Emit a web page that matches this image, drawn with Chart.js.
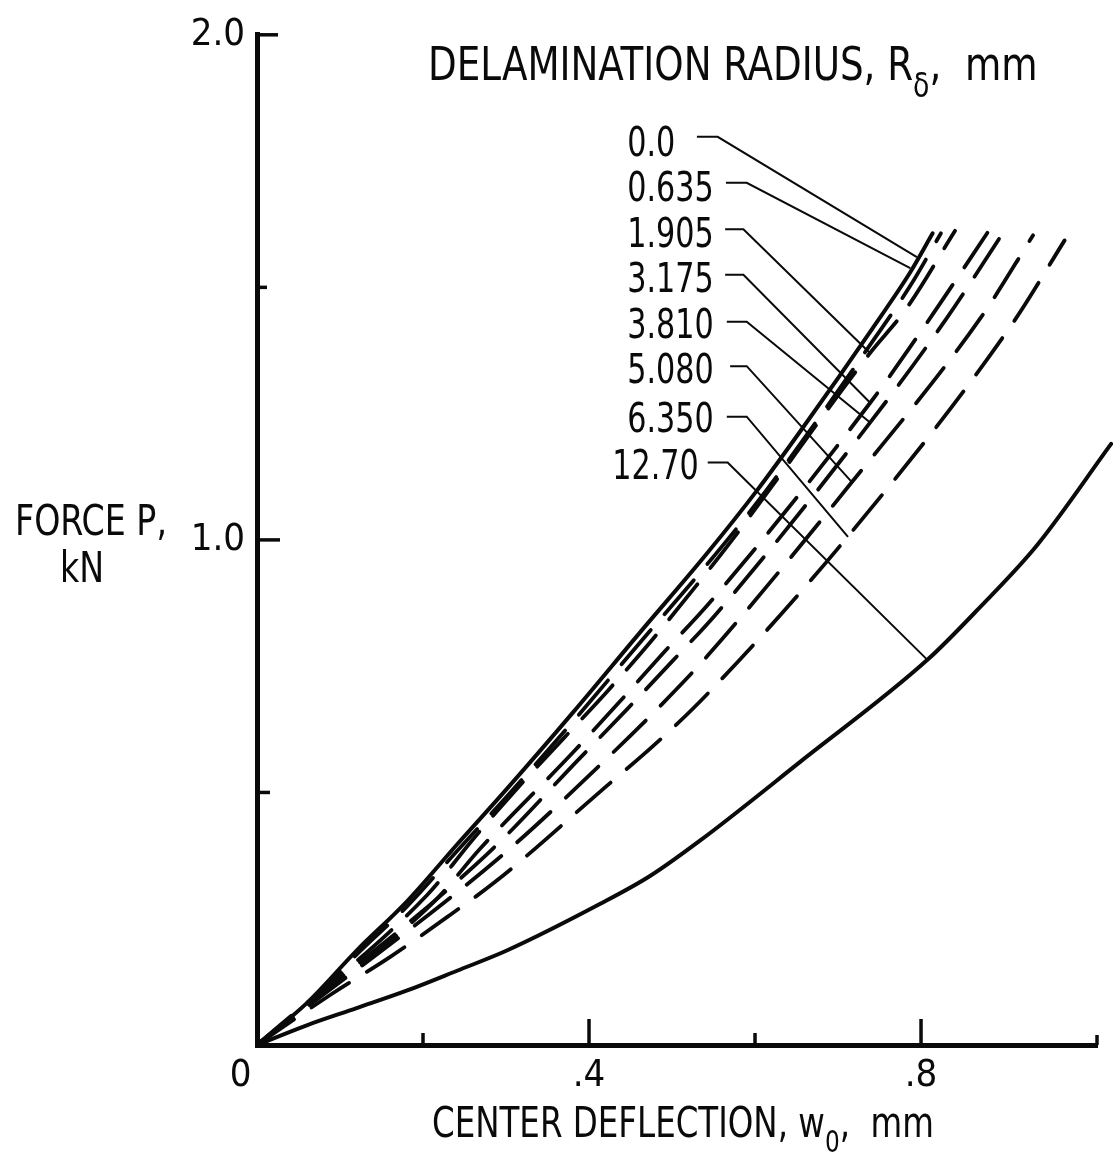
<!DOCTYPE html>
<html>
<head>
<meta charset="utf-8">
<script src="https://cdn.jsdelivr.net/npm/chart.js@4.4.1/dist/chart.umd.min.js"></script>
<style>
  html, body { margin: 0; padding: 0; background: #fff; }
  #wrap { width: 1113px; height: 1163px; position: relative; }
</style>
</head>
<body>
<div id="wrap"><canvas id="chart"></canvas></div>
<script>
/* ---------- DATA ---------- */
// center deflection w0 (mm) / force P (kN) for each delamination radius
const radiusLabels = ['0.0', '0.635', '1.905', '3.175', '3.810', '5.080', '6.350', '12.70'];

const defl_r0000 = [0, 0.060, 0.120, 0.181, 0.241, 0.301, 0.381, 0.461, 0.542, 0.602, 0.658, 0.742, 0.787, 0.814];
const force_r0000 = [0, 0.083, 0.187, 0.285, 0.397, 0.507, 0.659, 0.816, 0.973, 1.097, 1.223, 1.420, 1.530, 1.607];

const defl_r0635 = [0, 0.060, 0.120, 0.181, 0.241, 0.301, 0.381, 0.461, 0.542, 0.602, 0.658, 0.742, 0.787, 0.824];
const force_r0635 = [0, 0.079, 0.179, 0.275, 0.384, 0.492, 0.641, 0.796, 0.951, 1.073, 1.198, 1.394, 1.503, 1.607];

const defl_r1905 = [0, 0.205, 0.261, 0.314, 0.371, 0.423, 0.476, 0.529, 0.572, 0.739, 0.781, 0.841];
const force_r1905 = [0, 0.297, 0.409, 0.509, 0.610, 0.702, 0.802, 0.909, 0.999, 1.371, 1.455, 1.612];

const defl_r3175 = [0, 0.214, 0.269, 0.380, 0.436, 0.490, 0.546, 0.739, 0.808, 0.880];
const force_r3175 = [0, 0.285, 0.389, 0.578, 0.678, 0.777, 0.877, 1.272, 1.432, 1.608];

const defl_r3810 = [0, 0.276, 0.389, 0.446, 0.501, 0.554, 0.739, 0.831, 0.898];
const force_r3810 = [0, 0.376, 0.568, 0.665, 0.761, 0.855, 1.233, 1.439, 1.606];

const defl_r5080 = [0, 0.297, 0.427, 0.488, 0.543, 0.717, 0.872, 0.935];
const force_r5080 = [0, 0.378, 0.576, 0.675, 0.771, 1.115, 1.440, 1.603];

const defl_r6350 = [0, 0.089, 0.161, 0.233, 0.287, 0.420, 0.480, 0.542, 0.712, 0.910, 0.973];
const force_r6350 = [0, 0.100, 0.175, 0.258, 0.323, 0.511, 0.596, 0.694, 1.007, 1.428, 1.593];

const defl_r1270 = [0, 0.060, 0.120, 0.181, 0.241, 0.301, 0.413, 0.473, 0.534, 0.654, 0.808, 0.870, 0.940, 1.029];
const force_r1270 = [0, 0.039, 0.073, 0.108, 0.147, 0.187, 0.279, 0.334, 0.405, 0.560, 0.763, 0.865, 0.990, 1.190];

const seriesDefl = [defl_r0000, defl_r0635, defl_r1905, defl_r3175, defl_r3810, defl_r5080, defl_r6350, defl_r1270];
const seriesForce = [force_r0000, force_r0635, force_r1905, force_r3175, force_r3810, force_r5080, force_r6350, force_r1270];

// axis ticks
const xTickValues = [0, 0.2, 0.4, 0.6, 0.8, 1.0];
const xTickLabels = ['0', '', '.4', '', '.8', ''];
const yTickValues = [0, 0.5, 1.0, 1.5, 2.0];
const yTickLabels = ['', '', '1.0', '', '2.0'];

/* ---------- STYLE / LAYOUT ---------- */
const FONT = "'DejaVu Sans Condensed', 'DejaVu Sans', sans-serif";
const INK = '#0a0a0a';
const dashed = [false, true, true, true, true, true, true, false];

// label + leader placement, in data units (w0, P)
const labelPos = [
  [0.446, 1.788], [0.446, 1.699], [0.446, 1.607], [0.446, 1.519],
  [0.446, 1.428], [0.446, 1.338], [0.446, 1.242], [0.428, 1.149]
];
const leaderPath = [
  [0.530, 0.555, 1.798, 0.795, 1.560],
  [0.565, 0.590, 1.707, 0.787, 1.538],
  [0.564, 0.586, 1.615, 0.739, 1.369],
  [0.564, 0.586, 1.525, 0.739, 1.271],
  [0.566, 0.590, 1.432, 0.739, 1.232],
  [0.570, 0.590, 1.344, 0.717, 1.114],
  [0.566, 0.590, 1.244, 0.712, 1.006],
  [0.543, 0.567, 1.153, 0.808, 0.762]
];

/* ---------- PLUGINS ---------- */
const tickMarks = {
  id: 'tickMarks',
  afterDraw(chart) {
    const { ctx, scales: { x, y }, chartArea: a } = chart;
    ctx.save();
    ctx.strokeStyle = INK;
    ctx.lineWidth = 3.5;
    const xLen = [0, 12, 26, 12, 26, 10];
    xTickValues.forEach((v, i) => {
      if (!xLen[i]) return;
      const px = i === xTickValues.length - 1 ? a.right : x.getPixelForValue(v);
      ctx.beginPath();
      ctx.moveTo(px, a.bottom);
      ctx.lineTo(px, a.bottom - xLen[i]);
      ctx.stroke();
    });
    const yLen = [0, 13, 23, 10, 21];
    yTickValues.forEach((v, i) => {
      if (!yLen[i]) return;
      const py = y.getPixelForValue(v);
      ctx.beginPath();
      ctx.moveTo(a.left, py);
      ctx.lineTo(a.left + yLen[i], py);
      ctx.stroke();
    });
    ctx.restore();
  }
};

// narrow lettering: squeeze text horizontally, optional subscript parts
function drawText(ctx, parts, x, baseline, size, squeeze) {
  ctx.save();
  ctx.translate(x, baseline);
  ctx.scale(squeeze, 1);
  let cx = 0;
  parts.forEach(([txt, sub]) => {
    ctx.font = `${sub ? Math.round(size * 0.72) : size}px ${FONT}`;
    ctx.fillText(txt, cx, sub ? size * 0.36 : 0);
    cx += ctx.measureText(txt).width;
  });
  ctx.restore();
}

const annotations = {
  id: 'annotations',
  afterDraw(chart) {
    const { ctx, scales: { x, y } } = chart;
    ctx.save();
    ctx.fillStyle = INK;
    ctx.strokeStyle = INK;
    ctx.textBaseline = 'alphabetic';
    ctx.textAlign = 'left';

    // curve labels
    radiusLabels.forEach((lab, i) => {
      const [lx, ly] = labelPos[i];
      drawText(ctx, [[lab, false]], x.getPixelForValue(lx), y.getPixelForValue(ly) + 14, 40, 0.84);
    });

    // leaders
    ctx.lineWidth = 2;
    leaderPath.forEach(([x0, x1, yl, xe, ye]) => {
      ctx.beginPath();
      ctx.moveTo(x.getPixelForValue(x0), y.getPixelForValue(yl));
      ctx.lineTo(x.getPixelForValue(x1), y.getPixelForValue(yl));
      ctx.lineTo(x.getPixelForValue(xe), y.getPixelForValue(ye));
      ctx.stroke();
    });

    // titles
    drawText(ctx, [['DELAMINATION RADIUS, R', false], ['\u03b4', true], [',  mm', false]], 428, 80, 46, 0.90);
    drawText(ctx, [['CENTER DEFLECTION, w', false], ['0', true], [',  mm', false]], 432, 1137, 42, 0.86);
    drawText(ctx, [['FORCE P,', false]], 15, 535, 42, 0.88);
    drawText(ctx, [['kN', false]], 60, 582, 42, 0.88);
    ctx.restore();
  }
};

/* ---------- CHART ---------- */
const datasets = radiusLabels.map((lab, i) => ({
  label: lab,
  data: seriesDefl[i].map((w, k) => ({ x: w, y: seriesForce[i][k] })),
  showLine: true,
  borderColor: INK,
  borderWidth: i === 0 || i === 7 ? 4 : 3.8,
  borderDash: dashed[i] ? [45, 21] : [],
  borderCapStyle: 'round',
  pointRadius: 0,
  cubicInterpolationMode: 'monotone',
  clip: false
}));

new Chart(document.getElementById('chart'), {
  type: 'scatter',
  data: { datasets },
  options: {
    responsive: true,
    maintainAspectRatio: false,
    animation: false,
    layout: { padding: { top: 27, right: 16, left: 0, bottom: 0 } },
    plugins: { legend: { display: false }, tooltip: { enabled: false } },
    scales: {
      x: {
        type: 'linear', min: 0, max: 1.012,
        grid: { display: false, drawTicks: false },
        border: { display: true, color: INK, width: 5 },
        ticks: {
          stepSize: 0.2, color: INK, padding: 8, maxRotation: 0,
          font: { family: FONT, size: 38 },
          callback: v => {
            const i = xTickValues.findIndex(t => Math.abs(t - v) < 1e-6);
            if (i < 0) return '';
            return i === 0 ? xTickLabels[i] + '   ' : xTickLabels[i];
          }
        },
        afterFit: s => { s.height = 118; }
      },
      y: {
        type: 'linear', min: 0, max: 2.0,
        grid: { display: false, drawTicks: false },
        border: { display: true, color: INK, width: 5 },
        ticks: {
          stepSize: 0.5, color: INK, padding: 12,
          font: { family: FONT, size: 38 },
          callback: v => {
            const i = yTickValues.findIndex(t => Math.abs(t - v) < 1e-6);
            return i < 0 ? '' : yTickLabels[i];
          }
        },
        afterFit: s => { s.width = 257; }
      }
    }
  },
  plugins: [tickMarks, annotations]
});
</script>
</body>
</html>
